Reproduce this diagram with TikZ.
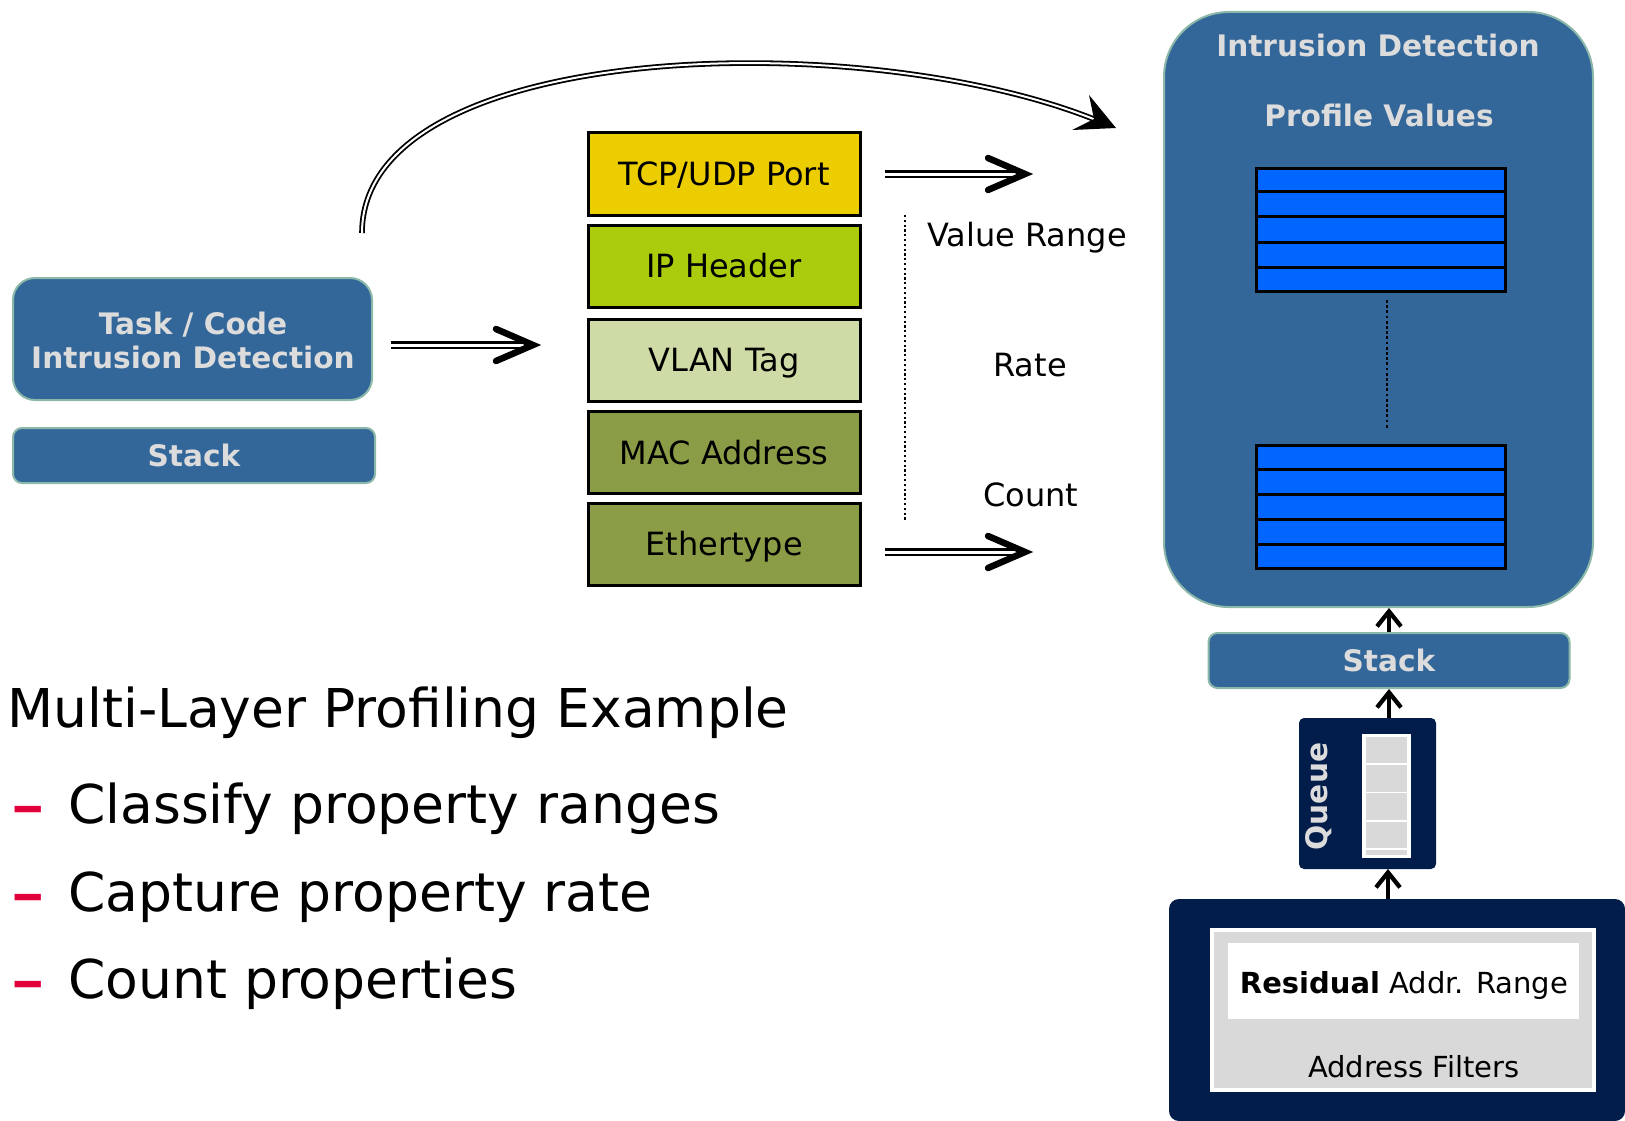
\documentclass[tikz,border=0pt]{standalone}
\usepackage{fontspec}
\setmainfont{DejaVu Sans}
\usetikzlibrary{arrows.meta,calc}

\definecolor{idblue}{HTML}{336699}
\definecolor{idedge}{HTML}{8BB8A8}
\definecolor{idtext}{HTML}{DCDCDC}
\definecolor{navy}{HTML}{031D4B}
\definecolor{cellblue}{HTML}{0066FF}
\definecolor{tcpcol}{HTML}{EBCD00}
\definecolor{ipcol}{HTML}{AACC0C}
\definecolor{vlancol}{HTML}{CFDBA6}
\definecolor{maccol}{HTML}{8A9C45}
\definecolor{cellgray}{HTML}{D9D9D9}
\definecolor{dashred}{HTML}{E2003A}

\begin{document}
\begin{tikzpicture}[x=1pt,y=-1pt,
  bluebox/.style={draw=idedge, line width=2pt, fill=idblue, inner sep=0pt},
  lighttext/.style={text=idtext, font=\fontsize{29.6}{34}\selectfont\bfseries},
  baselbl/.style={anchor=base, inner sep=0pt},
  midfont/.style={font=\fontsize{32}{36}\selectfont},
  smallfont/.style={font=\fontsize{29}{34}\selectfont},
  layer/.style={draw=black, line width=3pt, minimum width=272pt, minimum height=82pt,
    inner sep=0pt, text height=23.3pt, text depth=0pt, midfont},
  tbl/.style={draw=black, line width=3pt, fill=cellblue, minimum width=249pt,
    minimum height=123pt, inner sep=0pt},
  dblshaft/.style={double, line width=2.6pt, double distance=3pt},
  chevron/.style={line width=6.5pt, line cap=round, line join=miter},
  uparrow/.style={line width=4.3pt, -{Straight Barb[length=15pt,width=24pt,line width=4.3pt]}},
  dots/.style={line width=2.7pt, dash pattern=on 2.7pt off 2.5pt},
  bigtext/.style={anchor=base west, inner sep=0pt, font=\fontsize{53.5}{60}\selectfont},
]
\fill[white] (0,0) rectangle (1625,1121);
\path[use as bounding box] (0,0) rectangle (1625,1121);

% ---- task block on the left
\node[bluebox, rounded corners=22pt, minimum width=359pt, minimum height=122pt] (task) at (192.5,339) {};
\node[baselbl, lighttext] (tasktitle) at (193,334) {Task / Code};
\node[baselbl, lighttext] (taskname) at (193,368) {Intrusion Detection};
\node[bluebox, rounded corners=9pt, minimum width=362pt, minimum height=55pt, lighttext,
      text height=21pt, text depth=0pt] (stackL) at (194,455.5) {Stack};

% ---- protocol layers
\node[layer, fill=tcpcol]  (tcp)  at (724,174)   {TCP/UDP Port};
\node[layer, fill=ipcol]   (ip)   at (724,266)   {IP Header};
\node[layer, fill=vlancol] (vlan) at (724,360)   {VLAN Tag};
\node[layer, fill=maccol]  (mac)  at (724,452.5) {MAC Address};
\node[layer, fill=maccol]  (eth)  at (724,544)   {Ethertype};

% ---- double arrows
\coordinate (inS) at (391,345);  \coordinate (inE) at (543,345);
\coordinate (tcpS) at (885,174); \coordinate (tcpE) at (1035,174);
\coordinate (ethS) at (885,552); \coordinate (ethE) at (1035,552);
\foreach \s/\e in {inS/inE, tcpS/tcpE, ethS/ethE}{
  \draw[dblshaft] (\s) -- ($(\e)+(-14,0)$);
  \draw[chevron] ($(\e)+(-47,-16)$) -- ($(\e)+(-10,0)$) -- ($(\e)+(-47,16)$);
}

% ---- property kinds
\coordinate (rangeTop) at (905,215); \coordinate (rangeBot) at (905,520);
\draw[line width=2.2pt, dash pattern=on 2.2pt off 2.6pt] (rangeTop) -- (rangeBot);
\node[baselbl, midfont] (vrange) at (1027,246) {Value Range};
\node[baselbl, midfont] (rate)   at (1030,376) {Rate};
\node[baselbl, midfont] (count)  at (1031,506) {Count};

% ---- intrusion detection profile store
\node[bluebox, rounded corners=65pt, minimum width=429pt, minimum height=595pt] (idbox) at (1378.5,309.5) {};
\node[baselbl, lighttext] (idtitle) at (1378,57) {Intrusion Detection};
\node[baselbl, lighttext] (idsub) at (1379,127) {Profile Values};
\node[tbl] (tabTop) at (1380.5,229.5) {};
\node[tbl] (tabBot) at (1380.5,507) {};
\foreach \t in {tabTop, tabBot}{
  \foreach \i in {1,...,4}{
    \draw[line width=3pt] ($(\t.north west)!\i/5!(\t.south west)$) -- ($(\t.north east)!\i/5!(\t.south east)$);
  }
}
\coordinate (gapTop) at (1387,300); \coordinate (gapBot) at (1387,428);
\draw[dots] (gapTop) -- (gapBot);

% ---- curved arrow from the task to the profile store
\coordinate (curveS) at (362,233);
\coordinate (curveN) at (1096,120);
\coordinate (curveT) at (1116,128);
\draw[double, line width=1.8pt, double distance=2pt] (curveS) .. controls (362,40) and (860,25) .. (curveN);
\fill (curveT) -- ($(curveT)+(-27,-33)$) -- ($(curveT)+(-22,-9)$) -- ($(curveT)+(-44,2)$) -- cycle;

% ---- stack, queue and filters on the right
\node[bluebox, rounded corners=9pt, minimum width=361pt, minimum height=55pt, lighttext,
      text height=21pt, text depth=0pt] (stackR) at (1389,660.5) {Stack};
\draw[uparrow] (stackR.north) -- (stackR.north |- idbox.south);

\node[fill=navy, rounded corners=5pt, minimum width=137pt, minimum height=151pt, inner sep=0pt] (queue) at (1367.5,793.5) {};
\coordinate (qTop) at (1389,718);
\draw[uparrow] (qTop) -- (stackR.south);
\node[fill=white, minimum width=49pt, minimum height=124.5pt, inner sep=0pt] (slots) at (1386.5,796) {};
\foreach \a/\b in {737/763.3, 765/791.7, 793.3/820, 821.7/848.3, 850/855}{
  \fill[cellgray] (1366,\a) rectangle (1407,\b);
}
\node[rotate=90, anchor=base, inner sep=0pt, lighttext] (qlabel) at (1327,796.5) {Queue};

\node[fill=navy, rounded corners=10pt, minimum width=456pt, minimum height=222pt, inner sep=0pt] (filters) at (1397,1010) {};
\coordinate (fTop) at (1388,899); \coordinate (qBot) at (1388,869);
\draw[uparrow] (fTop) -- (qBot);
\node[fill=cellgray, draw=white, line width=3.5pt, minimum width=382pt, minimum height=160pt, inner sep=0pt] (panel) at (1403,1010) {};
\node[fill=white, minimum width=351pt, minimum height=76pt, inner sep=0pt] (residual) at (1403.5,981) {};
\node[baselbl, smallfont] (residualtxt) at (1404,993) {\textbf{Residual} Addr. Range};
\node[baselbl, smallfont] (paneltxt) at (1414,1077) {Address Filters};

% ---- bullet text
\node[bigtext] (heading) at (7,727) {Multi-Layer Profiling Example};
\foreach \y/\txt [count=\k] in {823/Classify property ranges, 911/Capture property rate, 998/Count properties}{
  \node[bigtext, text=dashred] (dash\k) at (11,\y) {\scalebox{1.25}[0.95]{\bfseries\textendash}};
  \node[bigtext] (item\k) at (68,\y) {\txt};
}
\end{tikzpicture}
\end{document}
